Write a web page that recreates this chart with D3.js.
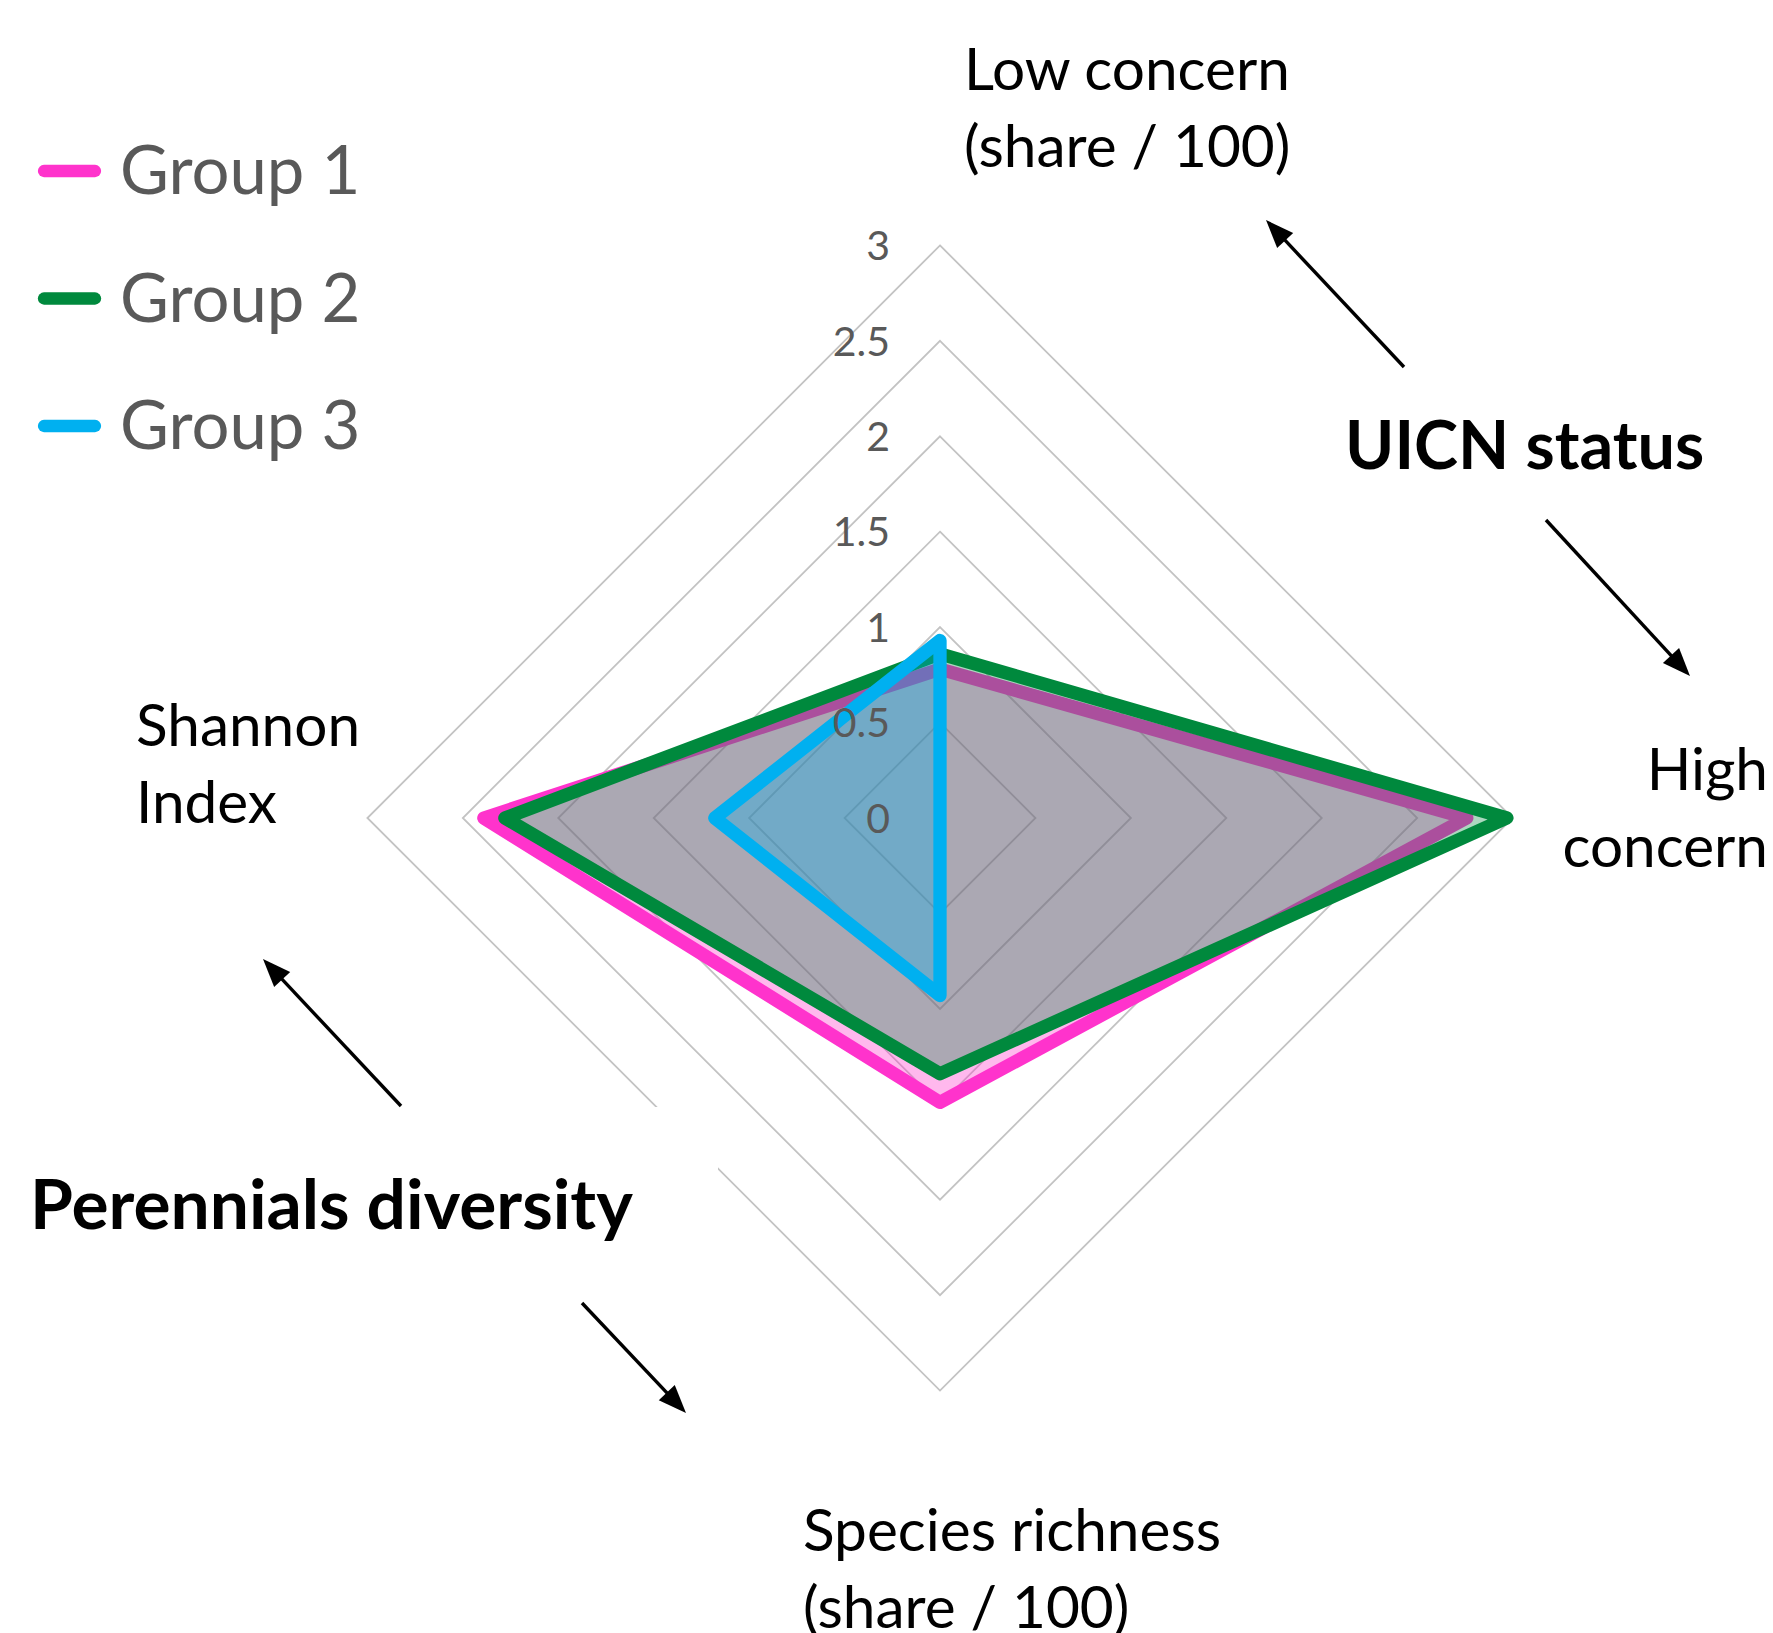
<!DOCTYPE html>
<html>
<head>
<meta charset="utf-8">
<script src="https://cdn.jsdelivr.net/npm/d3@7"></script>
<style>
  html, body { margin: 0; padding: 0; background: #ffffff; }
  svg { display: block; }
  text { font-family: Lato, "Open Sans", sans-serif; }
</style>
</head>
<body>
<svg id="chart" width="1773" height="1633"></svg>
<script>
// ---------- data ----------
const categories = ["Low concern (share / 100)", "High concern", "Species richness (share / 100)", "Shannon Index"];
const seriesNames = ["Group 1", "Group 2", "Group 3"];
const group1 = [0.78, 2.76, 1.49, 2.39];
const group2 = [0.86, 2.97, 1.34, 2.28];
const group3 = [0.93, 0.00, 0.93, 1.18];
const tickValues = [0, 0.5, 1, 1.5, 2, 2.5, 3];
const tickLabels = ["0", "0.5", "1", "1.5", "2", "2.5", "3"];
const groupTitles = ["UICN status", "Perennials diversity"];

// ---------- layout / style ----------
const W = 1773, H = 1633;
const cx = 940, cy = 818, R = 572.6;
const lineColors = ["#FF33CC", "#00893D", "#00B0F0"];
const fillColors = ["rgba(255,51,204,0.35)", "rgba(0,138,62,0.33)", "rgba(0,176,240,0.33)"];
const seriesValues = [group1, group2, group3];

const svg = d3.select("#chart");
svg.append("rect").attr("width", W).attr("height", H).attr("fill", "#fff");

const r = d3.scaleLinear().domain([0, 3]).range([0, R]);
const nAx = categories.length;
const ang = d3.scaleLinear().domain([0, nAx]).range([0, 2 * Math.PI]);

const radial = d3.lineRadial()
  .angle((d, i) => ang(i))
  .radius(d => r(d))
  .curve(d3.curveLinearClosed);

const g = svg.append("g").attr("transform", `translate(${cx},${cy})`);

// gridlines
g.selectAll("path.grid")
  .data(tickValues.filter(t => t > 0))
  .join("path")
  .attr("class", "grid")
  .attr("d", t => radial(categories.map(() => t)))
  .attr("fill", "none")
  .attr("stroke", "#C3C3C3")
  .attr("stroke-width", 1.8);

// white text-box area hiding part of the grid (as in the original)
svg.append("rect")
  .attr("x", 0).attr("y", 1107).attr("width", 718).attr("height", 200)
  .attr("fill", "#fff");

// series
seriesValues.forEach((vals, k) => {
  g.append("path")
    .attr("d", radial(vals))
    .attr("fill", fillColors[k])
    .attr("stroke", "none");
  g.append("path")
    .attr("d", radial(vals))
    .attr("fill", "none")
    .attr("stroke", lineColors[k])
    .attr("stroke-width", 13.3)
    .attr("stroke-linejoin", "round");
});

// tick labels
svg.append("g").selectAll("text")
  .data(tickValues)
  .join("text")
  .attr("x", cx - 50)
  .attr("y", t => cy - r(t))
  .attr("dy", "0.36em")
  .attr("text-anchor", "end")
  .attr("font-size", 41)
  .attr("fill", "#595959")
  .text((t, i) => tickLabels[i]);

// category labels
const catLayout = [
  { x: 964, y: 90, anchor: "start", lines: ["Low concern", "(share / 100)"] },
  { x: 1768, y: 790, anchor: "end", lines: ["High", "concern"] },
  { x: 803, y: 1551, anchor: "start", lines: ["Species richness", "(share / 100)"] },
  { x: 136, y: 746, anchor: "start", lines: ["Shannon", "Index"] }
];
categories.forEach((c, i) => {
  const L = catLayout[i];
  const t = svg.append("text")
    .attr("x", L.x).attr("y", L.y)
    .attr("text-anchor", L.anchor)
    .attr("font-size", 58.5)
    .attr("fill", "#000");
  L.lines.forEach((ln, j) => {
    t.append("tspan").attr("x", L.x).attr("y", L.y + j * 76.5).text(ln);
  });
});

// group titles
const titleLayout = [{ x: 1345, y: 469, size: 66.5 }, { x: 30, y: 1229, size: 69.5 }];
groupTitles.forEach((s, i) => {
  svg.append("text")
    .attr("x", titleLayout[i].x).attr("y", titleLayout[i].y)
    .attr("font-size", titleLayout[i].size).attr("font-weight", 700)
    .attr("fill", "#000")
    .text(s);
});

// arrows
const arrows = [
  [1404, 367, 1266, 220],
  [1546, 520, 1690, 676],
  [401, 1106, 263, 959],
  [582, 1303, 686, 1413]
];
const ag = svg.append("g");
arrows.forEach(([x1, y1, x2, y2]) => {
  const dx = x2 - x1, dy = y2 - y1, len = Math.hypot(dx, dy);
  const ux = dx / len, uy = dy / len;
  const hl = 28, hw = 11;
  const bx = x2 - ux * hl, by = y2 - uy * hl;
  ag.append("line")
    .attr("x1", x1).attr("y1", y1).attr("x2", bx + ux * 2).attr("y2", by + uy * 2)
    .attr("stroke", "#000").attr("stroke-width", 3.4);
  ag.append("polygon")
    .attr("points", [[x2, y2], [bx - uy * hw, by + ux * hw], [bx + uy * hw, by - ux * hw]].map(p => p.join(",")).join(" "))
    .attr("fill", "#000");
});

// legend
const legend = svg.append("g");
seriesNames.forEach((name, k) => {
  const y = 171 + k * 127.5;
  legend.append("line")
    .attr("x1", 44).attr("x2", 95).attr("y1", y).attr("y2", y)
    .attr("stroke", lineColors[k]).attr("stroke-width", 12.3)
    .attr("stroke-linecap", "round");
  legend.append("text")
    .attr("x", 120).attr("y", y + 23)
    .attr("font-size", 67).attr("fill", "#595959")
    .text(name);
});
</script>
</body>
</html>
